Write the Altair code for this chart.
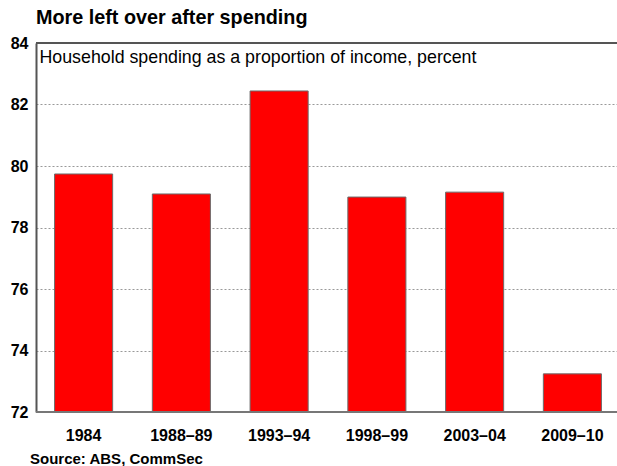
import altair as alt
import pandas as pd

categories = ["1984", "1988–89", "1993–94", "1998–99", "2003–04", "2009–10"]
values = [79.74, 79.09, 82.44, 78.99, 79.15, 73.24]
y_ticks = [72, 74, 76, 78, 80, 82, 84]

df = pd.DataFrame({"period": categories, "value": values})

W, H = 581, 369
XR = 584  # band range extends slightly past the visible frame

bars = alt.Chart(df).mark_bar(
    color="#FF0000", stroke="#6b6b6b", strokeWidth=1, clip=True
).encode(
    x=alt.X("period:N", sort=categories, title=None,
            scale=alt.Scale(paddingInner=0.406, paddingOuter=0.19, range=[0, XR]),
            axis=alt.Axis(labelAngle=0, labelFont="Liberation Sans", labelFontWeight="bold",
                          labelFontSize=16, labelColor="#000", ticks=False, labelPadding=15,
                          domain=False, grid=False)),
    y=alt.Y("value:Q", title=None,
            scale=alt.Scale(domain=[72, 84], nice=False, zero=False),
            axis=alt.Axis(values=y_ticks, labelFont="Liberation Sans", labelFontWeight="bold",
                          labelFontSize=16, labelColor="#000", ticks=False, labelPadding=8,
                          domainColor="#555", domainWidth=2,
                          grid=True, gridColor="#999", gridDash=[2, 2], gridWidth=1)),
)

frame = alt.Chart(pd.DataFrame({"v": [84, 72], "c": ["#555", "#777"]})).mark_rule(strokeWidth=2).encode(
    y=alt.Y("v:Q", scale=alt.Scale(domain=[72, 84], nice=False, zero=False)),
    x=alt.value(0), x2=alt.value(W + 5),
    color=alt.Color("c:N", scale=None)
)

sub = alt.Chart(pd.DataFrame({"t": ["Household spending as a proportion of income, percent"]})).mark_text(
    align="left", baseline="middle", font="Liberation Sans", fontSize=17.8, color="#000"
).encode(x=alt.value(3.5), y=alt.value(14.5), text="t:N")

src = alt.Chart(pd.DataFrame({"t": ["Source: ABS, CommSec"]})).mark_text(
    align="left", baseline="middle", font="Liberation Sans", fontSize=15, fontWeight="bold", color="#000"
).encode(x=alt.value(-6), y=alt.value(H + 47), text="t:N")

chart = alt.layer(bars, frame, sub, src).properties(
    width=W, height=H,
    title=alt.TitleParams("More left over after spending", anchor="start", frame="group",
                          font="Liberation Sans", fontSize=19.8, fontWeight="bold", color="#000",
                          offset=7, dx=0),
    autosize=alt.AutoSizeParams(type="none"),
    padding={"left": 36, "top": 43, "right": 0, "bottom": 54},
).configure_view(strokeWidth=0).configure(background="white")

chart.save("out.html", embed_options={"renderer": "svg", "actions": False})
